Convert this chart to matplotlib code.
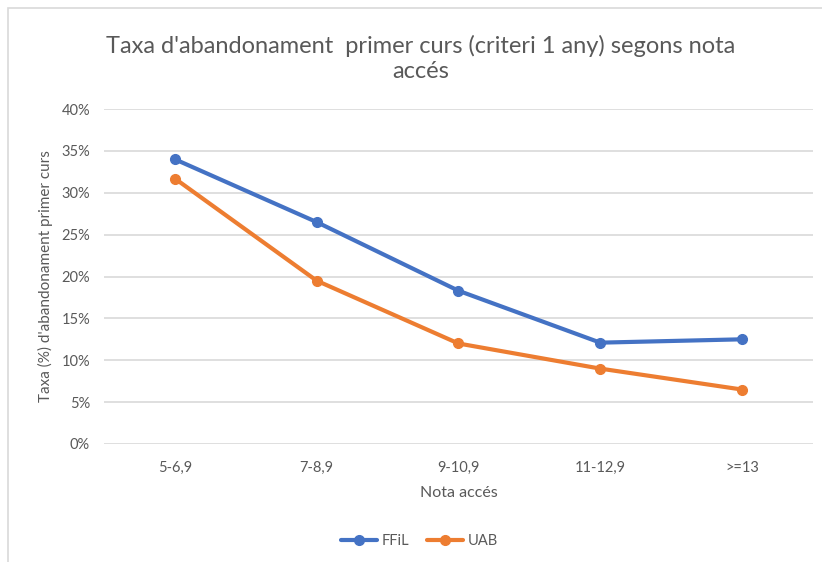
import numpy as np
import matplotlib.pyplot as plt
from matplotlib.patches import Rectangle
from matplotlib.ticker import PercentFormatter

# data
categories = ['5-6,9', '7-8,9', '9-10,9', '11-12,9', '>=13']
ffil = [34.0, 26.5, 18.3, 12.1, 12.5]
uab = [31.7, 19.5, 12.0, 9.0, 6.5]

plt.rcParams['font.family'] = ['Lato', 'DejaVu Sans']
grey = '#595959'

fig = plt.figure(figsize=(8.22, 5.62), dpi=100)
ax = fig.add_axes([0.1265, 0.21, 0.8625, 0.596])

# chart frame (partly cut off on the right/bottom like the screenshot)
fig.patches.append(Rectangle((8/822, -0.1), 1.2, 1.1 - 8/562, transform=fig.transFigure,
                             fill=False, edgecolor='#D9D9D9', linewidth=1.2))

x = np.arange(len(categories))
ax.plot(x, ffil, color='#4472C4', lw=3, marker='o', ms=7, label='FFiL', solid_capstyle='round')
ax.plot(x, uab, color='#ED7D31', lw=3, marker='o', ms=7, label='UAB', solid_capstyle='round')

ax.set_xlim(-0.5, len(categories) - 0.5)
ax.set_ylim(0, 40)
ax.set_yticks(np.arange(0, 41, 5))
ax.yaxis.set_major_formatter(PercentFormatter(decimals=0))
ax.set_xticks(x)
ax.set_xticklabels(categories)
ax.grid(axis='y', color='#D9D9D9', lw=1.2)
ax.set_axisbelow(True)
for s in ax.spines.values():
    s.set_visible(False)
ax.tick_params(length=0, labelsize=10.5, colors=grey, pad=12)
ax.tick_params(axis='y', pad=10)

ax.set_xlabel('Nota accés', fontsize=11.5, color=grey, labelpad=8)
ax.set_ylabel("Taxa (%) d'abandonament primer curs", fontsize=11, color=grey, labelpad=6)

fig.text(0.512, 0.896, "Taxa d'abandonament  primer curs (criteri 1 any) segons nota\naccés",
         ha='center', va='center', fontsize=17, color=grey, linespacing=1.25)

fig.legend(loc='center', bbox_to_anchor=(0.51, 0.037), ncol=2, frameon=False,
           fontsize=10.5, labelcolor=grey, handlelength=2.5, handletextpad=0.3, columnspacing=1.2)

fig.savefig('out.png', dpi=100)
